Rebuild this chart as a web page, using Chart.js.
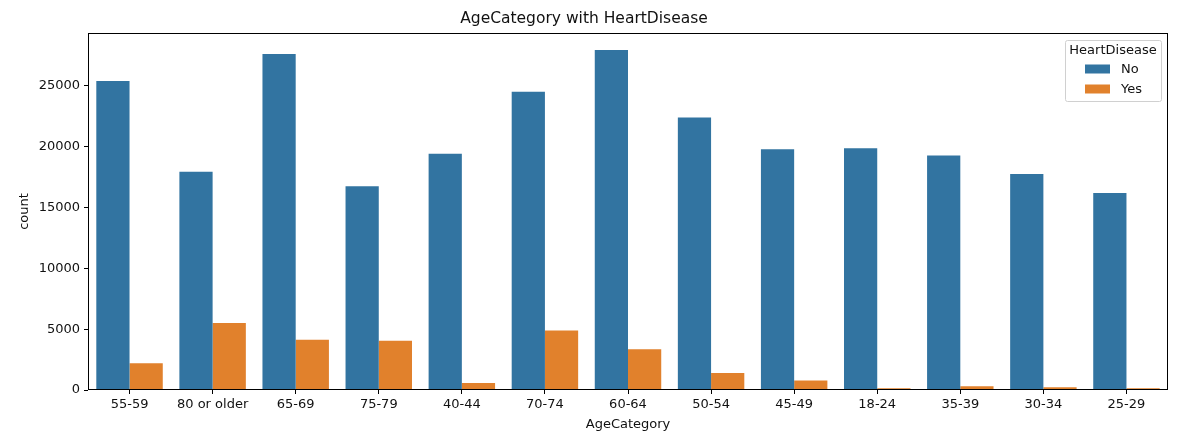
<!DOCTYPE html>
<html>
<head>
<meta charset="utf-8">
<title>AgeCategory with HeartDisease</title>
<script src="https://cdn.jsdelivr.net/npm/chart.js@4.4.1/dist/chart.umd.min.js"></script>
<style>
    html, body { margin: 0; padding: 0; background: #fff; }
    #wrap { width: 1189px; height: 439px; position: relative; }
</style>
</head>
<body>
<div id="wrap"><canvas id="ageChart"></canvas></div>
<script>
const ageCategories = ['55-59', '80 or older', '65-69', '75-79', '40-44', '70-74', '60-64',
    '50-54', '45-49', '18-24', '35-39', '30-34', '25-29'];
const countNo = [25400, 17950, 27620, 16760, 19420, 24530, 27950, 22400, 19800, 19880, 19280, 17750, 16200];
const countYes = [2200, 5500, 4130, 4050, 570, 4900, 3360, 1390, 790, 150, 300, 230, 150];
const seriesNames = ['No', 'Yes'];
const yTicks = [0, 5000, 10000, 15000, 20000, 25000];

const fontFamily = '"DejaVu Sans", sans-serif';
const textColor = '#111';

// frame around the axes, like matplotlib's spines
const framePlugin = {
    id: 'frame',
    afterDraw(chart) {
        const { ctx, chartArea: a } = chart;
        ctx.save();
        ctx.strokeStyle = '#000';
        ctx.lineWidth = 1;
        ctx.strokeRect(a.left + 0.5, a.top + 0.5, a.right - a.left - 1, a.bottom - a.top - 1);
        ctx.restore();
    }
};

// legend box in the upper right corner of the plot
const boxLegendPlugin = {
    id: 'boxLegend',
    afterDraw(chart) {
        const { ctx, chartArea: a } = chart;
        const w = 96, h = 61;
        const x = a.right - 7 - w, y = a.top + 7;
        ctx.save();
        ctx.fillStyle = 'rgba(255,255,255,0.8)';
        ctx.strokeStyle = '#d0d0d0';
        ctx.lineWidth = 1;
        ctx.beginPath();
        ctx.roundRect(x + 0.5, y + 0.5, w, h, 2);
        ctx.fill();
        ctx.stroke();

        ctx.fillStyle = textColor;
        ctx.font = '13px ' + fontFamily;
        ctx.textAlign = 'center';
        ctx.textBaseline = 'middle';
        ctx.fillText('HeartDisease', x + w / 2, y + 11);

        ctx.textAlign = 'left';
        chart.data.datasets.forEach((ds, i) => {
            const rowY = y + 29 + i * 20;
            ctx.fillStyle = ds.backgroundColor;
            ctx.fillRect(x + 20, rowY - 4.5, 25, 9);
            ctx.fillStyle = textColor;
            ctx.fillText(ds.label, x + 56, rowY + 1);
        });
        ctx.restore();
    }
};

new Chart(document.getElementById('ageChart'), {
    type: 'bar',
    data: {
        labels: ageCategories,
        datasets: [
            {
                label: seriesNames[0],
                data: countNo,
                backgroundColor: '#3274a1',
                categoryPercentage: 0.8,
                barPercentage: 1.0,
            },
            {
                label: seriesNames[1],
                data: countYes,
                backgroundColor: '#e1812c',
                categoryPercentage: 0.8,
                barPercentage: 1.0,
            },
        ],
    },
    options: {
        responsive: true,
        maintainAspectRatio: false,
        animation: false,
        devicePixelRatio: 1,
        layout: {
            padding: { top: 0, right: 21, bottom: 0, left: 0 }
        },
        plugins: {
            legend: { display: false },
            tooltip: { enabled: false },
            title: {
                display: true,
                text: 'AgeCategory with HeartDisease',
                color: textColor,
                font: { family: fontFamily, size: 15.5, weight: 'normal' },
                padding: { top: 10, bottom: 4.4 },
            },
        },
        scales: {
            x: {
                grid: {
                    offset: false,
                    drawOnChartArea: false,
                    drawTicks: true,
                    tickLength: 4,
                    color: '#000',
                },
                border: { display: false },
                ticks: {
                    color: textColor,
                    font: { family: fontFamily, size: 13 },
                    padding: 3,
                    maxRotation: 0,
                    autoSkip: false,
                },
                title: {
                    display: true,
                    text: 'AgeCategory',
                    color: textColor,
                    font: { family: fontFamily, size: 13 },
                    padding: { top: 0, bottom: 7 },
                },
                afterFit(scale) {
                    scale.height = 49;
                },
            },
            y: {
                min: 0,
                max: 29350,
                grid: {
                    drawOnChartArea: false,
                    drawTicks: true,
                    tickLength: 4,
                    color: '#000',
                },
                border: { display: false },
                afterBuildTicks(scale) {
                    scale.ticks = yTicks.map(v => ({ value: v }));
                },
                ticks: {
                    color: textColor,
                    font: { family: fontFamily, size: 13 },
                    padding: 4,
                    callback: v => String(v),
                },
                title: {
                    display: true,
                    text: 'count',
                    color: textColor,
                    font: { family: fontFamily, size: 13 },
                    padding: { top: 17, bottom: 0 },
                },
                afterFit(scale) {
                    scale.width = 88;
                },
            },
        },
    },
    plugins: [framePlugin, boxLegendPlugin],
});
</script>
</body>
</html>
